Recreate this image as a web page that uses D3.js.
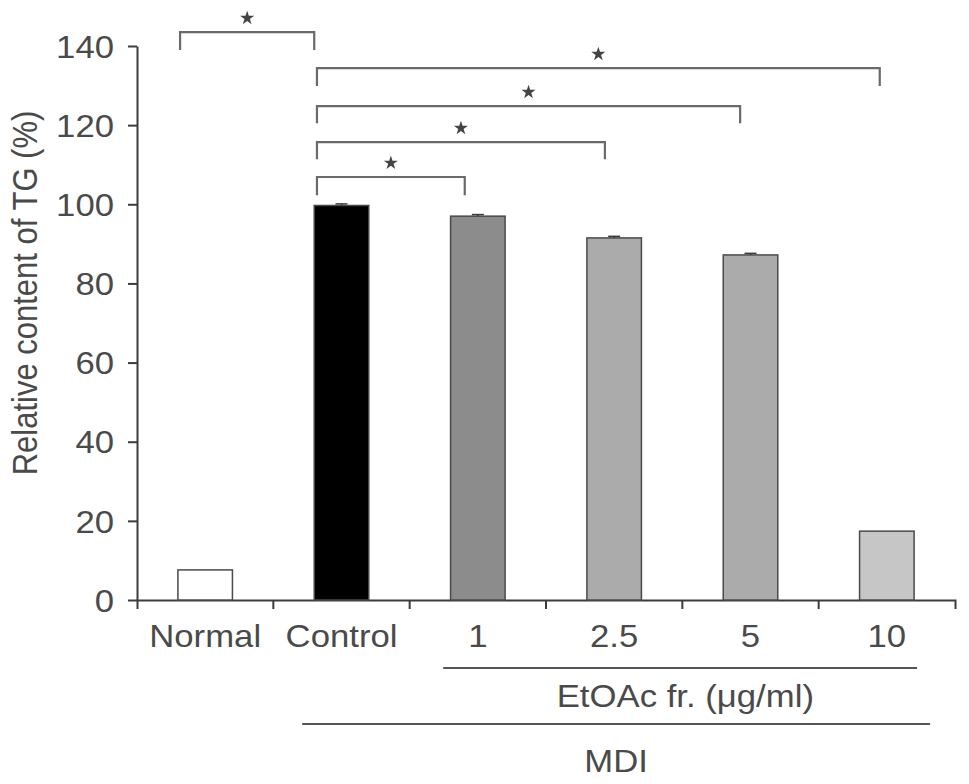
<!DOCTYPE html>
<html>
<head>
<meta charset="utf-8">
<script src="https://cdn.jsdelivr.net/npm/d3@7"></script>
<style>
  html, body { margin: 0; padding: 0; background: #fff; }
  svg { display: block; }
  text { font-family: "Liberation Sans", Arial, Helvetica, sans-serif; fill: #4a4a4a; }
</style>
</head>
<body>
<svg id="chart" width="969" height="784"></svg>
<script>
// ---- data ----
const categories = ["Normal", "Control", "1", "2.5", "5", "10"];
const values = [7.6, 99.7, 97.0, 91.5, 87.2, 17.4];
const errors = [0, 0.4, 0.4, 0.4, 0.4, 0];
const barColors = ["#ffffff", "#000000", "#8c8c8c", "#ababab", "#ababab", "#c6c6c6"];
const yTicks = [0, 20, 40, 60, 80, 100, 120, 140];
const yLabel = "Relative content of TG (%)";
const groupLabels = ["EtOAc fr. (\u03bcg/ml)", "MDI"];
// significance brackets: from/to category, top value, leg end value
const bracketFrom = ["Normal", "Control", "Control", "Control", "Control"];
const bracketTo = ["Control", "10", "5", "2.5", "1"];
const bracketTop = [143.5, 134.4, 124.8, 115.7, 106.9];
const bracketLeg = [139.0, 129.9, 120.5, 111.4, 102.3];
const bracketFromFrac = [0.04, 0.05, 0.05, 0.05, 0.05];
const bracketToFrac = [0.0, 0.37, 0.31, 0.33, 0.26];

// ---- layout ----
const svg = d3.select("#chart");
const sx = 1.12; // horizontal stretch of glyphs
const fontSize = 31;
const x = d3.scaleBand().domain(categories).range([137, 955]).paddingInner(0.6).paddingOuter(0.3);
const y = d3.scaleLinear().domain([0, 140]).range([600, 46]);
const axisColor = "#3c3c3c";

// y axis
const gy = svg.append("g").attr("transform", `translate(${x.range()[0]},0)`)
  .call(d3.axisLeft(y).tickValues(yTicks).tickSize(9).tickSizeOuter(0).tickFormat(d3.format("d")));
gy.select(".domain").attr("stroke", axisColor).attr("stroke-width", 2);
gy.selectAll(".tick line").attr("stroke", axisColor).attr("stroke-width", 2);
gy.selectAll(".tick text")
  .attr("font-size", fontSize).attr("font-family", null)
  .attr("x", -23 / sx).attr("dy", "0.36em")
  .attr("transform", `scale(${sx},1)`).style("fill", "#4a4a4a");

// x axis
const gx = svg.append("g").attr("transform", `translate(0,${y(0)})`)
  .call(d3.axisBottom(x).tickSizeInner(0).tickSizeOuter(9));
gx.select(".domain").attr("stroke", axisColor).attr("stroke-width", 2);
gx.selectAll(".tick line").remove();
gx.selectAll(".tick text")
  .attr("font-size", fontSize).attr("font-family", null)
  .attr("y", 47).attr("dy", 0)
  .attr("transform", `scale(${sx},1)`).style("fill", "#4a4a4a");
const gap = (x.step() - x.bandwidth()) / 2;
gx.selectAll("line.bound").data(categories.slice(1)).enter().append("line")
  .attr("class", "bound")
  .attr("x1", d => x(d) - gap).attr("x2", d => x(d) - gap)
  .attr("y1", 0).attr("y2", 9)
  .attr("stroke", axisColor).attr("stroke-width", 2);

// bars
svg.append("g").selectAll("rect").data(categories).enter().append("rect")
  .attr("x", d => x(d))
  .attr("y", (d, i) => y(values[i]))
  .attr("width", x.bandwidth())
  .attr("height", (d, i) => y(0) - y(values[i]))
  .attr("fill", (d, i) => barColors[i])
  .attr("stroke", "#4a4a4a").attr("stroke-width", 1.5);

// error bars
const eg = svg.append("g").attr("stroke", "#3a3a3a").attr("stroke-width", 1.5);
categories.forEach((c, i) => {
  if (!errors[i]) return;
  const cx = x(c) + x.bandwidth() / 2;
  eg.append("line").attr("x1", cx).attr("x2", cx)
    .attr("y1", y(values[i])).attr("y2", y(values[i] + errors[i]));
  eg.append("line").attr("x1", cx - 6).attr("x2", cx + 6)
    .attr("y1", y(values[i] + errors[i])).attr("y2", y(values[i] + errors[i]));
});

// significance brackets
const bg = svg.append("g");
bracketFrom.forEach((a, i) => {
  const x1 = x(a) + bracketFromFrac[i] * x.bandwidth();
  const x2 = x(bracketTo[i]) + bracketToFrac[i] * x.bandwidth();
  const yt = y(bracketTop[i]), yl = y(bracketLeg[i]);
  bg.append("path")
    .attr("d", `M${x1},${yl}V${yt}H${x2}V${yl}`)
    .attr("fill", "none").attr("stroke", "#6a6a6a").attr("stroke-width", 2.2);
  bg.append("path")
    .attr("d", d3.symbol(d3.symbolStar, 62)())
    .attr("transform", `translate(${(x1 + x2) / 2},${yt - 14})`)
    .attr("fill", "#444");
});

// group lines and labels
const gl = svg.append("g");
const g1x1 = x("1") - gap * 0.18, g1x2 = x("10") + x.bandwidth() + 3;
gl.append("line").attr("x1", g1x1).attr("x2", g1x2).attr("y1", 668).attr("y2", 668)
  .attr("stroke", "#555").attr("stroke-width", 2);
gl.append("text").attr("text-anchor", "middle").attr("font-size", fontSize)
  .attr("transform", `translate(${x("5") - gap + 3},707) scale(${sx},1)`)
  .text(groupLabels[0]);
const g2x1 = x("Control") - 12, g2x2 = x("10") + x.bandwidth() + 16;
gl.append("line").attr("x1", g2x1).attr("x2", g2x2).attr("y1", 724).attr("y2", 724)
  .attr("stroke", "#555").attr("stroke-width", 2);
gl.append("text").attr("text-anchor", "middle").attr("font-size", fontSize)
  .attr("transform", `translate(${(g2x1 + g2x2) / 2},772) scale(${sx},1)`)
  .text(groupLabels[1]);

// y label
svg.append("text").attr("text-anchor", "middle").attr("font-size", fontSize)
  .attr("transform", `translate(37,293) scale(${sx},1) rotate(-90)`)
  .text(yLabel);
</script>
</body>
</html>
